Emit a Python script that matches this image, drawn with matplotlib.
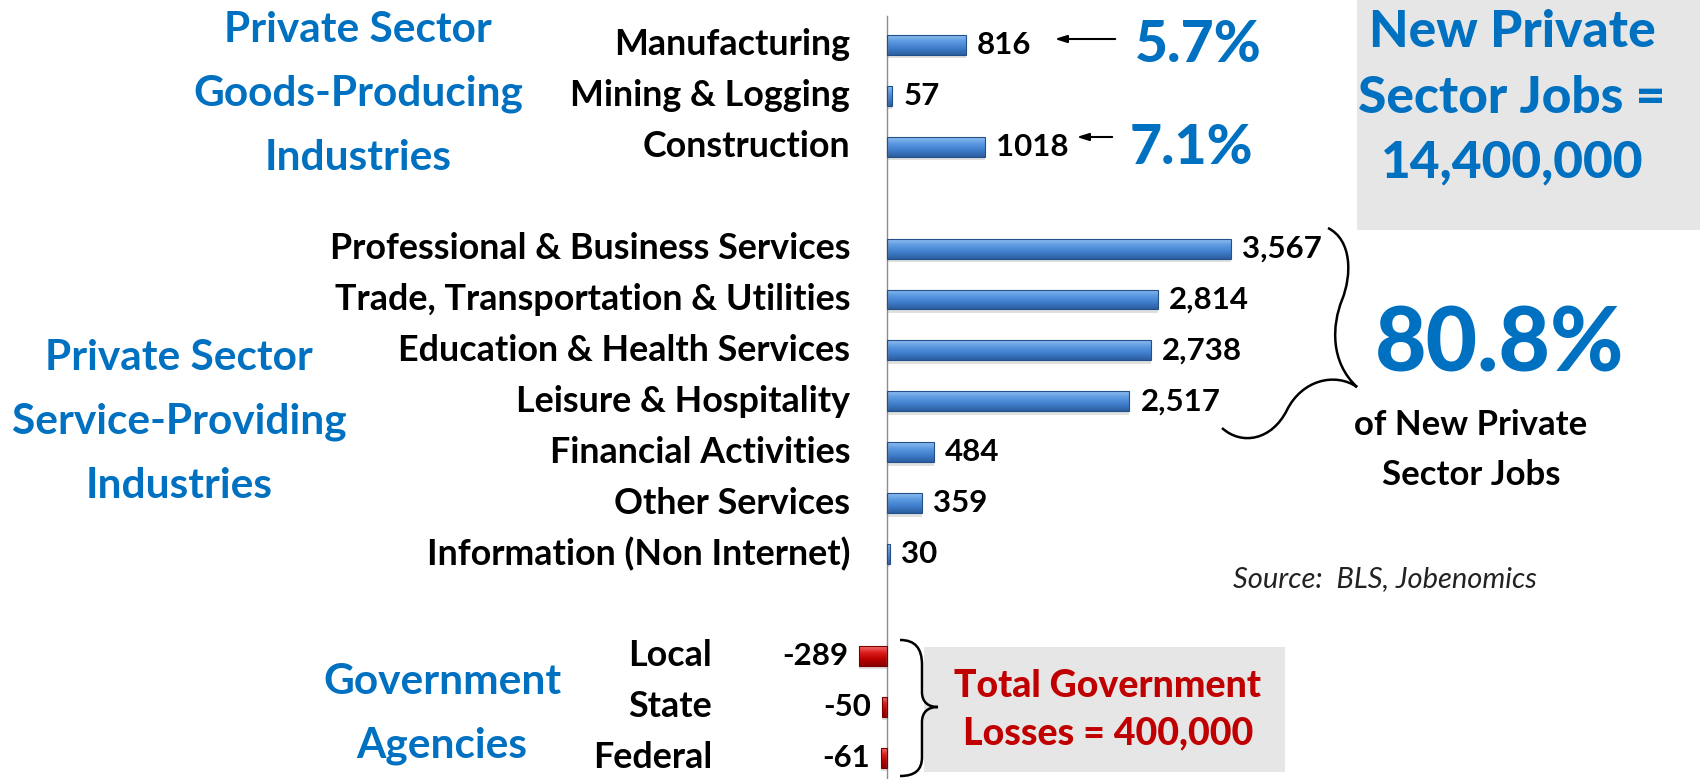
import numpy as np
import matplotlib
matplotlib.use("Agg")
import matplotlib.pyplot as plt
from matplotlib.path import Path
from matplotlib.patches import PathPatch, Rectangle
from matplotlib.colors import LinearSegmentedColormap
from matplotlib.transforms import offset_copy

# jobs gained / lost (thousands)
goods_cats = ["Manufacturing", "Mining & Logging", "Construction"]
goods_vals = [816, 57, 1018]
goods_lbls = ["816", "57", "1018"]

service_cats = ["Professional & Business Services", "Trade, Transportation & Utilities",
                "Education & Health Services", "Leisure & Hospitality",
                "Financial Activities", "Other Services", "Information (Non Internet)"]
service_vals = [3567, 2814, 2738, 2517, 484, 359, 30]
service_lbls = ["3,567", "2,814", "2,738", "2,517", "484", "359", "30"]

gov_cats = ["Local", "State", "Federal"]
gov_vals = [-289, -50, -61]
gov_lbls = ["-289", "-50", "-61"]

FONT = "Lato"
BLUE = "#0070C0"
RED = "#C00000"

W, H = 1700, 779
fig = plt.figure(figsize=(17, 7.79), dpi=100)

# pixel layout: zero line at x=887, 0.0963 px per thousand jobs, rows 50.9 px apart
x0, pxu = 887, 0.0963
row0, rowh = 45, 50.9
ax = fig.add_axes([0, 0, 1, (H - 16) / H])
xlim = (-x0 / pxu, (W - x0) / pxu)
ylim = ((H - row0) / rowh, (16 - row0) / rowh)

groups = [(goods_cats, goods_vals, goods_lbls), (service_cats, service_vals, service_lbls),
          (gov_cats, gov_vals, gov_lbls)]
pos, cats, vals, lbls = [], [], [], []
start = 0
for c, v, l in groups:
    pos += list(range(start, start + len(c)))
    cats += c
    vals += v
    lbls += l
    start += len(c) + 1
pos = np.array(pos)
vals = np.array(vals)

blue_cm = LinearSegmentedColormap.from_list("b", ["#8dbdf0", "#5a98e0", "#3f7ccb", "#2b5e9f"])
red_cm = LinearSegmentedColormap.from_list("r", ["#f27070", "#dd1c1c", "#b80000", "#8a0000"])

bh = 0.39
# soft shadow under the bars
ax.barh(pos + 0.07, vals, height=bh, left=0, color="black", alpha=0.12, zorder=1)
bars = ax.barh(pos, vals, height=bh, color="none", edgecolor="none", zorder=2)
grad = np.linspace(0, 1, 64).reshape(-1, 1)
for b, v in zip(bars, vals):
    x, y = b.get_x(), b.get_y()
    w, h = b.get_width(), b.get_height()
    im = ax.imshow(grad, cmap=blue_cm if v > 0 else red_cm, aspect="auto",
                   extent=(x, x + w, y + h, y), zorder=2, interpolation="bilinear")
    im.set_clip_path(b)
    edge = "#24508a" if v > 0 else "#7a0000"
    ax.add_patch(Rectangle((x, y), w, h, fill=False, edgecolor=edge, lw=0.8, zorder=3))
ax.set_xlim(*xlim)
ax.set_ylim(*ylim)

ax.bar_label(bars, labels=lbls, padding=8, fontsize=22.5, fontweight="bold",
             family=FONT, color="black")

# category names, right-aligned a fixed distance left of the zero line
near = offset_copy(ax.transData, fig=fig, x=-37, y=0, units="dots")
far = offset_copy(ax.transData, fig=fig, x=-175, y=0, units="dots")
for p, c in zip(pos, cats):
    ax.text(0, p, c, transform=far if c in gov_cats else near, ha="right", va="center",
            fontsize=25.8, fontweight="bold", family=FONT, color="black")

ax.set_xticks([])
ax.set_yticks([])
for s in ["top", "right", "bottom"]:
    ax.spines[s].set_visible(False)
ax.spines["left"].set_position(("data", 0))
ax.spines["left"].set_color("#8c8c8c")
ax.spines["left"].set_linewidth(1)
ax.patch.set_alpha(0)

# overlays in pixel coordinates for the annotations
ov = fig.add_axes([0, 0, 1, 1], zorder=-1)
ov.set_xlim(0, W)
ov.set_ylim(H, 0)
ov.axis("off")
ov2 = fig.add_axes([0, 0, 1, 1], zorder=5)
ov2.set_xlim(0, W)
ov2.set_ylim(H, 0)
ov2.axis("off")

# gray boxes
ov.add_patch(Rectangle((1357, -5), 360, 235, color="#e6e6e6", lw=0))
ov.add_patch(Rectangle((924, 647), 361, 125, color="#e6e6e6", lw=0))

# group titles
ov2.text(358, 94, "Private Sector\nGoods-Producing\nIndustries", ha="center", va="center",
         fontsize=30.5, fontweight="bold", family=FONT, color=BLUE, linespacing=1.84)
ov2.text(179, 422, "Private Sector\nService-Providing\nIndustries", ha="center", va="center",
         fontsize=30.5, fontweight="bold", family=FONT, color=BLUE, linespacing=1.84)
ov2.text(442, 714, "Government\nAgencies", ha="center", va="center",
         fontsize=30.5, fontweight="bold", family=FONT, color=BLUE, linespacing=1.84)

# call-outs
ov2.text(1512, 98, "New Private\nSector Jobs =\n14,400,000", ha="center", va="center",
         fontsize=37, fontweight="black", family=FONT, color=BLUE, linespacing=1.48)
ov2.text(1135, 45, "5.7%", ha="left", va="center", fontsize=41, fontweight="black",
         family=FONT, color=BLUE)
ov2.text(1130, 148, "7.1%", ha="left", va="center", fontsize=40, fontweight="black",
         family=FONT, color=BLUE)
ov2.annotate("", xy=(1052, 39), xytext=(1118, 39),
             arrowprops=dict(arrowstyle="-|>,head_length=0.7,head_width=0.22", color="black", lw=1.5))
ov2.annotate("", xy=(1074, 137), xytext=(1115, 137),
             arrowprops=dict(arrowstyle="-|>,head_length=0.7,head_width=0.22", color="black", lw=1.5))
ov2.text(1500, 345, "80.8%", ha="center", va="center", fontsize=64, fontweight="black",
         family=FONT, color=BLUE)
ov2.text(1471, 450, "of New Private\nSector Jobs", ha="center", va="center",
         fontsize=25, fontweight="bold", family=FONT, color="black", linespacing=1.68)
ov2.text(1108, 710, "Total Government\nLosses = 400,000", ha="center", va="center",
         fontsize=27, fontweight="black", family=FONT, color=RED, linespacing=1.48)
ov2.text(1233, 579, "Source:  BLS, Jobenomics", ha="left", va="center", fontsize=21,
         style="italic", family=FONT, color="#222222")

# wavy brace around the service bars
verts = [(1328, 228), (1352, 240), (1352, 275), (1342, 300),
         (1332, 325), (1330, 362), (1357, 387),
         (1335, 372), (1302, 380), (1287, 410),
         (1272, 440), (1242, 446), (1222, 428)]
codes = [Path.MOVETO] + [Path.CURVE4] * 12
ov2.add_patch(PathPatch(Path(verts, codes), fill=False, lw=1.8, color="black"))

# brace for government rows
verts = [(900, 640), (915, 640), (922, 648), (922, 665),
         (922, 692),
         (922, 702), (928, 707), (938, 707),
         (928, 707), (922, 712), (922, 722),
         (922, 757),
         (922, 770), (915, 776), (900, 776)]
codes = ([Path.MOVETO] + [Path.CURVE4] * 3 + [Path.LINETO] + [Path.CURVE4] * 6
         + [Path.LINETO] + [Path.CURVE4] * 3)
ov2.add_patch(PathPatch(Path(verts, codes), fill=False, lw=1.8, color="black"))

fig.savefig("out.png", dpi=100)
